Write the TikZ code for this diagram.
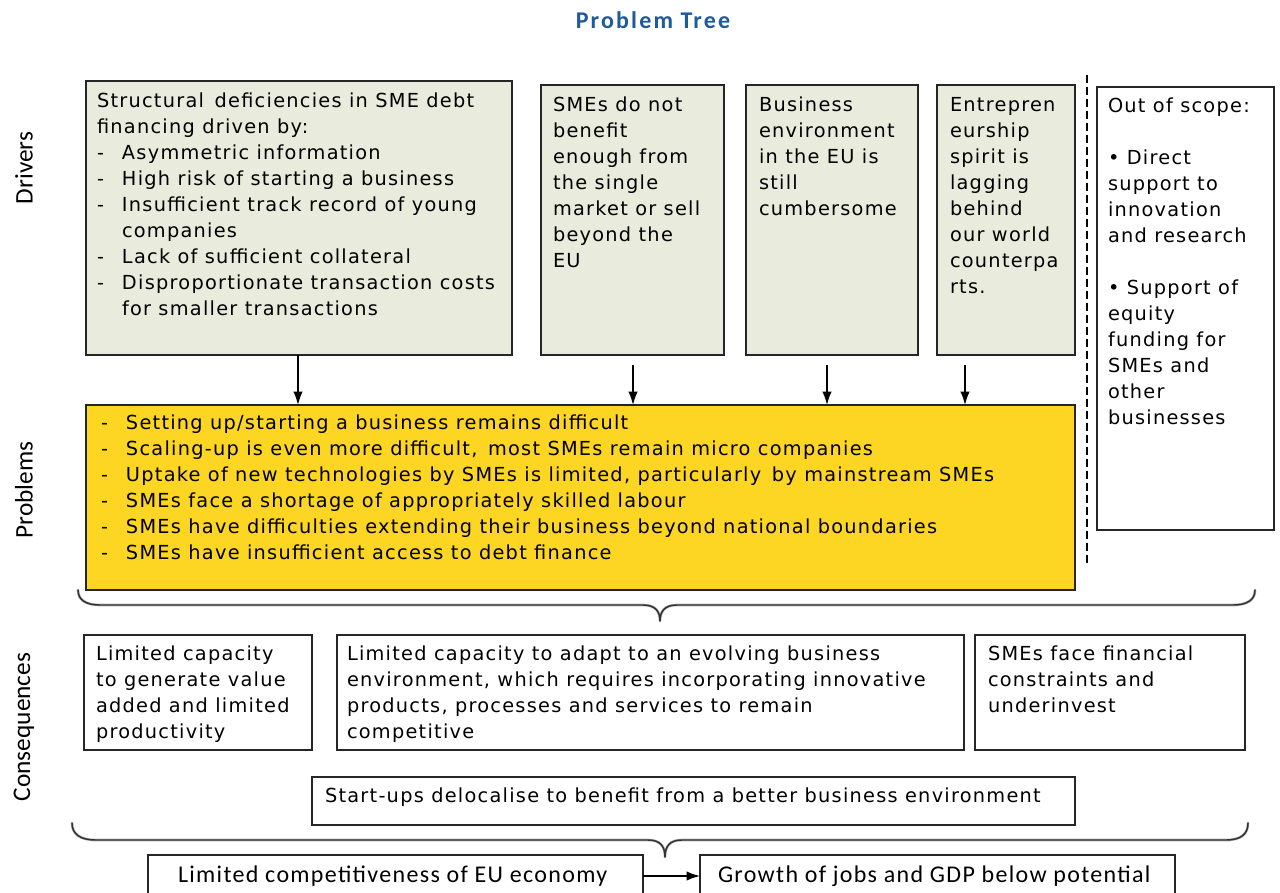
\documentclass[tikz,border=0pt]{standalone}
\usepackage{fontspec}
\setmainfont{DejaVu Sans}[LetterSpace=6.5]
\newfontfamily\calib{Carlito}
\newfontfamily\calibt{Carlito}[LetterSpace=9]
\newfontfamily\calibb{Carlito}[LetterSpace=5.5]
\usetikzlibrary{fit,shadows,arrows.meta}
\definecolor{drvfill}{HTML}{E9ECDC}
\definecolor{probfill}{HTML}{FDD523}
\definecolor{titleblue}{HTML}{1F5A9A}
\newcommand\itm[1]{\makebox[18.75pt][l]{-}#1}
\newcommand\cnt[1]{\hspace*{18.75pt}#1}
\begin{document}
\begin{tikzpicture}[x=0.75pt,y=-0.75pt,
  every node/.style={inner sep=0pt, outer sep=0pt},
  frame/.style={draw=black!85, line width=1.5pt, drop shadow={shadow xshift=1pt, shadow yshift=-1pt, fill=black!50, opacity=0.6}},
  drv/.style={frame, fill=drvfill},
  prob/.style={frame, fill=probfill},
  wbox/.style={frame, fill=white},
  txt/.style={anchor=north west, align=left, font=\fontsize{14.5}{19.5}\selectfont},
  btxt/.style={anchor=west, font=\calibb\fontsize{18}{20}\selectfont},
  side/.style={rotate=90, font=\calib\fontsize{19}{20}\selectfont},
  arr/.style={-{Latex[length=10pt,width=7pt]}, line width=1.1pt},
  bracestyle/.style={line width=1.1pt, draw=black!80, line join=round, line cap=round},
  braceshadow/.style={line width=2pt, draw=black!30, line join=round, line cap=round}
]
\useasboundingbox (0,0) rectangle (1280,892);
\clip (0,0) rectangle (1280,892);
\fill[white] (0,0) rectangle (1280,892);

% title and side labels
\node[font=\calibt\bfseries\fontsize{18}{19}\selectfont, text=titleblue] (ttl) at (653,20) {Problem Tree};
\node[side] (ldr) at (24,168) {Drivers};
\node[side] (lpr) at (24,490) {Problems};
\node[side] (lcs) at (24,727) {Consequences};

% drivers
\node[drv, fit={(86,81) (512,355)}] (d1) {};
\node[drv, fit={(541,85) (724,355)}] (d2) {};
\node[drv, fit={(746,85) (918,355)}] (d3) {};
\node[drv, fit={(937,85) (1075,355)}] (d4) {};
\node[txt] (d1t) at (97,93) {Structural\, deficiencies in SME debt\\financing driven by:\\\itm{Asymmetric information}\\\itm{High risk of starting a business}\\\itm{Insufficient track record of young}\\\cnt{companies}\\\itm{Lack of sufficient collateral}\\\itm{Disproportionate transaction costs}\\\cnt{for smaller transactions}};
\node[txt] (d2t) at (553,97) {SMEs do not\\benefit\\enough from\\the single\\market or sell\\beyond the\\EU};
\node[txt] (d3t) at (759,97) {Business\\environment\\in the EU is\\still\\cumbersome};
\node[txt] (d4t) at (950,97) {Entrepren\\eurship\\spirit is\\lagging\\behind\\our world\\counterpa\\rts.};

% dashed separator and out of scope
\coordinate (sepa) at (1087,75);
\coordinate (sepb) at (1087,565);
\draw[line width=1.3pt, dash pattern=on 6pt off 3pt] (sepa) -- (sepb);
\node[wbox, fit={(1097,87) (1274,530)}] (os) {};
\node[txt] (ost) at (1108,98) {Out of scope:\\[19.5pt]{\textbullet} Direct\\support to\\innovation\\and research\\[19.5pt]{\textbullet} Support of\\equity\\funding for\\SMEs and\\other\\businesses};

% problems
\node[prob, fit={(86,405) (1075,590)}] (pb) {};
\node[txt] (pbt) at (101,415) {\itm{Setting up/starting a business remains difficult}\\\itm{Scaling-up is even more difficult,\, most SMEs remain micro companies}\\\itm{Uptake of new technologies by SMEs is limited, particularly\, by mainstream SMEs}\\\itm{SMEs face a shortage of appropriately skilled labour}\\\itm{SMEs have difficulties extending their business beyond national boundaries}\\\itm{SMEs have insufficient access to debt finance}};

% arrows drivers -> problems
\coordinate (a1) at (298,355);
\coordinate (a2) at (633,365);
\coordinate (a3) at (827,365);
\coordinate (a4) at (965,365);
\foreach \a in {a1,a2,a3,a4}{\draw[arr] (\a) -- (\a |- pb.north);}

% brace 1
\coordinate (b1l) at (78,590);
\coordinate (b1t) at (660,621);
\coordinate (b1r) at (1255,590);
\foreach \s in {braceshadow,bracestyle}{
\draw[\s] (b1l) .. controls (78,600) and (86,605) .. (100,605) -- (643,605) .. controls (655,605) and (660,611) .. (b1t) .. controls (660,611) and (665,605) .. (677,605) -- (1233,605) .. controls (1247,605) and (1255,600) .. (b1r);
}

% consequences
\node[wbox, fit={(84,635) (312,750)}] (c1) {};
\node[wbox, fit={(337,635) (964,750)}] (c2) {};
\node[wbox, fit={(975,635) (1245,750)}] (c3) {};
\node[txt] (c1t) at (96,646) {Limited capacity\\to generate value\\added and limited\\productivity};
\node[txt] (c2t) at (347,646) {Limited capacity to adapt to an evolving business\\environment, which requires incorporating innovative\\products, processes and services to remain\\competitive};
\node[txt] (c3t) at (988,646) {SMEs face financial\\constraints and\\underinvest};
\node[wbox, fit={(312,777) (1075,825)}] (st) {};
\node[txt] (stt) at (325,788) {Start-ups delocalise to benefit from a better business environment};

% brace 2
\coordinate (b2l) at (72,823);
\coordinate (b2t) at (665,857);
\coordinate (b2r) at (1248,823);
\foreach \s in {braceshadow,bracestyle}{
\draw[\s] (b2l) .. controls (72,834) and (80,840) .. (96,840) -- (648,840) .. controls (660,840) and (665,846) .. (b2t) .. controls (665,846) and (670,840) .. (682,840) -- (1226,840) .. controls (1241,840) and (1248,834) .. (b2r);
}

% bottom
\node[wbox, fit={(148,855) (643,905)}] (bb1) {};
\node[wbox, fit={(700,855) (1175,905)}] (bb2) {};
\node[btxt] (bb1t) at (178,876) {Limited competitiveness of EU economy};
\node[btxt] (bb2t) at (718,876) {Growth of jobs and GDP below potential};
\draw[arr] (bb1.east |- bb1t.west) -- (bb2.west |- bb1t.west);
\end{tikzpicture}
\end{document}
